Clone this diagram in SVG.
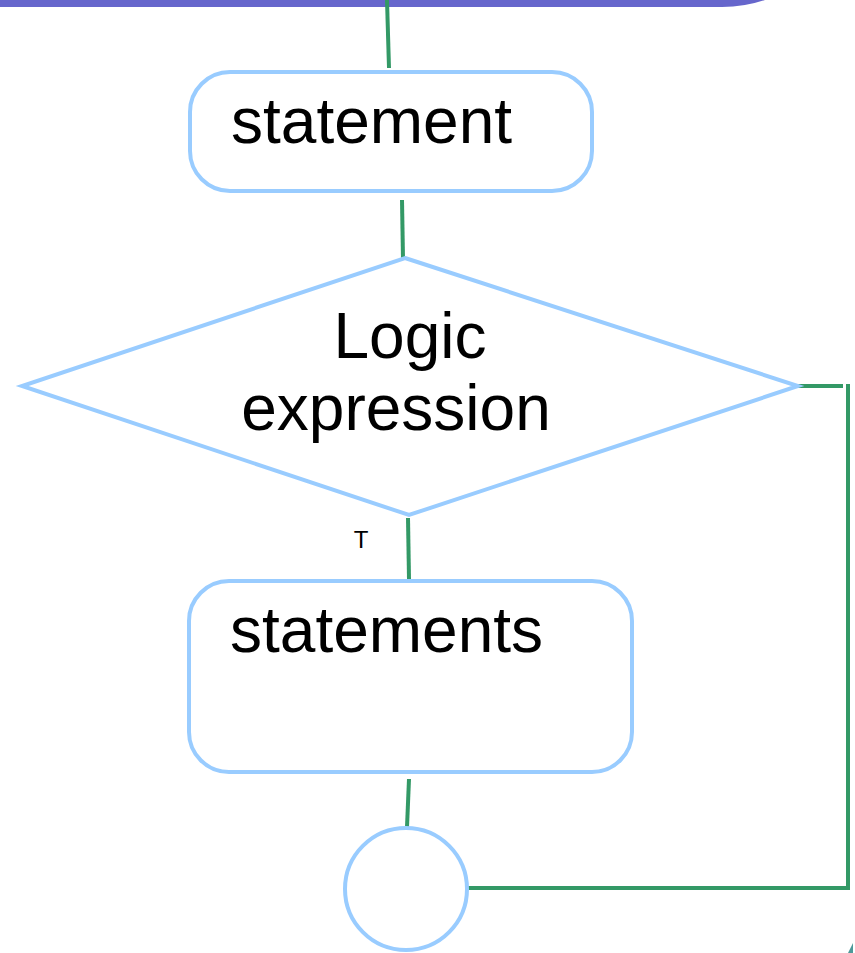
<svg xmlns="http://www.w3.org/2000/svg" width="855" height="953" viewBox="0 0 855 953">
<style>
.node{fill:#fff;stroke:#99CCFF;stroke-width:4}
.conn{stroke:#339966;stroke-width:4;fill:none}
.lbl{font-family:"Liberation Sans",Arial,sans-serif;fill:#000}
</style>
<rect width="855" height="953" fill="#fff"/>
<g id="banner">
<path d="M0,0 H765 Q745,7 722,7 H0 Z" fill="#6666CC"/>
</g>
<g id="connectors">
<line class="conn" x1="387" y1="0" x2="389" y2="68"/>
<line class="conn" x1="402" y1="200" x2="403" y2="259"/>
<line class="conn" x1="408" y1="518" x2="409" y2="579"/>
<line class="conn" x1="409" y1="779" x2="407" y2="827"/>
<line class="conn" x1="798" y1="386" x2="843" y2="386"/>
<polyline class="conn" points="848,384 848,888 465,888"/>
<polygon points="853,943 853,953 848,953" fill="#4d9999"/>
</g>
<g id="n-statement">
<rect class="node" x="190" y="72" width="402" height="119" rx="40"/>
<text class="lbl" x="231" y="143" font-size="64">statement</text>
</g>
<g id="n-logic">
<polygon class="node" points="405,258 798,386 409,515 22,386"/>
<text class="lbl" x="410" y="358" font-size="64" text-anchor="middle">Logic</text>
<text class="lbl" x="396" y="430" font-size="64" text-anchor="middle">expression</text>
</g>
<g id="label-T">
<text class="lbl" x="361" y="548" font-size="24" text-anchor="middle">T</text>
</g>
<g id="n-statements">
<rect class="node" x="189" y="581" width="443" height="191" rx="40"/>
<text class="lbl" x="230" y="652" font-size="64">statements</text>
</g>
<g id="n-join">
<circle class="node" cx="406" cy="889" r="61"/>
</g>
</svg>
